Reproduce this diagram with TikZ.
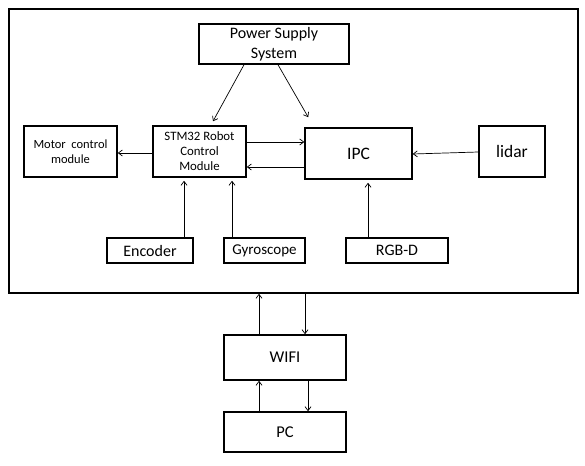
\documentclass[tikz,border=0pt]{standalone}
\usepackage{fontspec}
\setmainfont{Carlito}
\usetikzlibrary{arrows.meta,calc}

\tikzset{
	blk/.style 2 args={
		draw,
		line width=1.5pt,
		inner sep=0pt,
		align=center,
		minimum width=#1pt,
		minimum height=#2pt
	},
	link/.style={->, line width=0.7pt}
}

\begin{document}
\begin{tikzpicture}[x=1pt, y=-1pt, >={Straight Barb[length=4pt,width=6pt]}, font=\fontsize{16}{19}\selectfont]

	\useasboundingbox (0,0) rectangle (585,465);

	% ================= Robot frame =================
	\node[blk={569}{284}] (robot) at (293.5,151) {};

	\node[blk={150}{40}, font=\fontsize{16}{20}\selectfont] (pss) at (274,44) {Power Supply\\System};

	\node[blk={93}{51}, font=\fontsize{12.5}{15}\selectfont] (motor) at (70.5,151.5) {Motor\ \ control\\module};
	\node[blk={93}{51}, font=\fontsize{12.8}{15}\selectfont] (stm) at (199.5,151.5) {STM32 Robot\\Control\\Module};
	\node[blk={107}{51}, font=\fontsize{17.5}{20}\selectfont] (ipc) at (358.5,153.5) {IPC};
	\node[blk={66}{51}, font=\fontsize{17.5}{20}\selectfont] (lidar) at (512,151.5) {lidar};

	\node[blk={86}{25}] (enc) at (150,250.5) {Encoder};
	\node[blk={81}{25}, font=\fontsize{15}{18}\selectfont] (gyro) at (264.5,250.5) {Gyroscope};
	\node[blk={102}{25}] (rgbd) at (397,250.5) {RGB-D};

	% power lines
	\draw[link] ($(pss.south)+(-30,0)$) -- ($(stm.north)+(13.5,-4)$);
	\draw[link] ($(pss.south)+(4,0)$) -- ($(ipc.north west)+(4,-10)$);

	% control links
	\draw[link] (stm.west |- 0,153) -- (motor.east |- 0,153);
	\draw[link] (stm.east |- 0,142) -- (ipc.west |- 0,142);
	\draw[link] (ipc.west |- 0,167) -- (stm.east |- 0,167);
	\draw[link] (lidar.west |- 0,152) -- (ipc.east |- 0,154);

	% sensors
	\draw[link, shorten >=3pt] (enc.north -| 184,0) -- (stm.south -| 184,0);
	\draw[link, shorten >=3pt] (gyro.north -| 232,0) -- (stm.south -| 232,0);
	\draw[link, shorten >=3pt] (rgbd.north -| 368,0) -- (ipc.south -| 368,0);

	% ================= Remote side =================
	\node[blk={122}{45}, font=\fontsize{16.5}{19}\selectfont] (wifi) at (285,357.5) {WIFI};
	\node[blk={122}{40}, font=\fontsize{16.5}{19}\selectfont] (pc) at (285,432) {PC};

	\draw[link] (wifi.north -| 259,0) -- (robot.south -| 259,0);
	\draw[link] (robot.south -| 305,0) -- (wifi.north -| 305,0);
	\draw[link] (pc.north -| 259,0) -- (wifi.south -| 259,0);
	\draw[link] (wifi.south -| 308,0) -- (pc.north -| 308,0);

\end{tikzpicture}
\end{document}
